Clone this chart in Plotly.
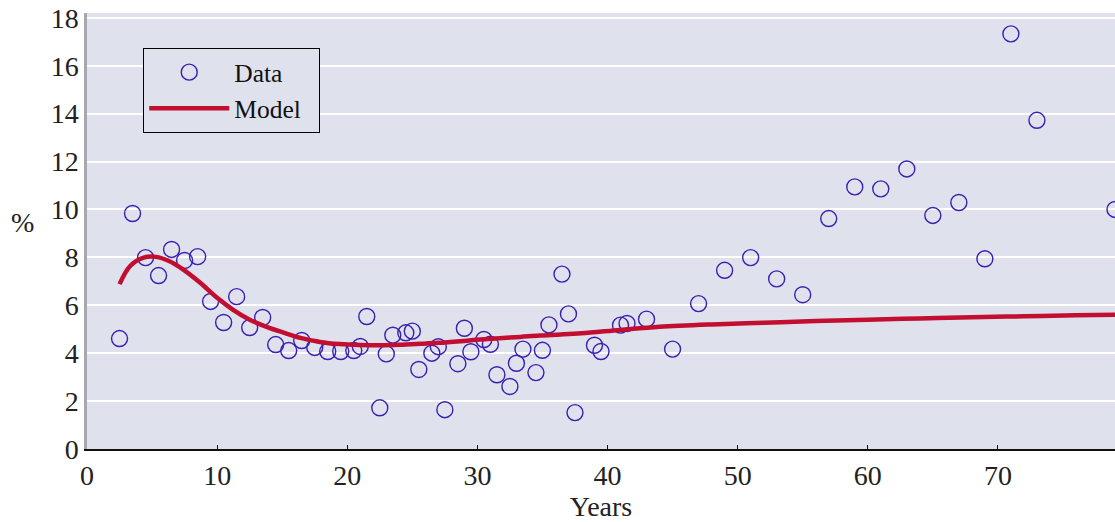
import plotly.graph_objects as go

# Observed data
years = [2.5, 3.5, 4.5, 5.5, 6.5, 7.5, 8.5, 9.5, 10.5, 11.5, 12.5, 13.5, 14.5, 15.5,
         16.5, 17.5, 18.5, 19.5, 20.5, 21, 21.5, 22.5, 23, 23.5, 24.5, 25, 25.5, 26.5,
         27, 27.5, 28.5, 29, 29.5, 30.5, 31, 31.5, 32.5, 33, 33.5, 34.5, 35, 35.5,
         36.5, 37, 37.5, 39, 39.5, 41, 41.5, 43, 45, 47, 49, 51, 53, 55, 57, 59, 61,
         63, 65, 67, 69, 71, 73, 79]
pct = [4.61, 9.83, 7.99, 7.24, 8.33, 7.87, 8.03, 6.16, 5.28, 6.36, 5.07, 5.49, 4.36, 4.11,
       4.53, 4.24, 4.07, 4.07, 4.11, 4.28, 5.53, 1.72, 3.97, 4.75, 4.85, 4.92, 3.32, 4.00,
       4.27, 1.64, 3.56, 5.04, 4.06, 4.57, 4.37, 3.10, 2.61, 3.58, 4.17, 3.19, 4.12, 5.18,
       7.30, 5.64, 1.52, 4.33, 4.07, 5.17, 5.24, 5.42, 4.17, 6.07, 7.46, 7.99, 7.10, 6.44,
       9.62, 10.94, 10.86, 11.69, 9.75, 10.29, 7.94, 17.33, 13.72, 10.00]

# Model curve
model_x = [2.5, 3.3, 4.3, 5.3, 6.3, 7.4, 8.7, 10, 11.2, 12.5, 13.8, 15.1, 16.4, 17.9,
           19.4, 21, 22.5, 24, 25.6, 27, 28.7, 30.2, 31.7, 33.3, 34.8, 36.4, 38, 41,
           44, 48, 52, 56, 60, 64, 68, 72, 76, 79]
model_y = [6.88, 7.63, 7.98, 8.02, 7.85, 7.49, 6.94, 6.31, 5.82, 5.40, 5.10, 4.86, 4.64,
           4.47, 4.38, 4.34, 4.33, 4.35, 4.39, 4.43, 4.50, 4.57, 4.62, 4.68, 4.74, 4.78,
           4.83, 4.97, 5.10, 5.20, 5.27, 5.34, 5.40, 5.45, 5.50, 5.54, 5.58, 5.60]

x_ticks = [0, 10, 20, 30, 40, 50, 60, 70]
y_ticks = [0, 2, 4, 6, 8, 10, 12, 14, 16, 18]

FONT = "Liberation Serif"
BG = "#DFE1ED"

fig = go.Figure()
fig.add_trace(go.Scatter(
    x=years, y=pct, mode="markers", name="Data",
    marker=dict(symbol="circle-open", size=16, color="#3A1FB2", line=dict(width=1.4)),
    cliponaxis=True,
))
fig.add_trace(go.Scatter(
    x=model_x, y=model_y, mode="lines", name="Model\u00a0\u00a0",
    line=dict(color="#C20E30", width=4.5, shape="spline"),
))

fig.update_layout(
    width=1115, height=522,
    margin=dict(l=87, r=0, t=13, b=73),
    paper_bgcolor="white",
    plot_bgcolor=BG,
    font=dict(family=FONT, size=28, color="#222222"),
    showlegend=True,
    legend=dict(
        x=0.0545, y=0.92, xanchor="left", yanchor="top",
        bgcolor=BG, bordercolor="black", borderwidth=1.2,
        font=dict(family=FONT, size=25.5, color="#111111"),
        itemwidth=80, tracegroupgap=0,
    ),
    xaxis=dict(
        range=[0, 79], tickvals=x_ticks, showgrid=False, zeroline=False,
        showline=True, linecolor="#111111", linewidth=2,
        ticks="inside", ticklen=4, tickcolor="#111111",
        tickfont=dict(family=FONT, size=28), ticklabeloverflow="allow",
        title=dict(text="Years", font=dict(family=FONT, size=28), standoff=4),
    ),
    yaxis=dict(
        range=[0, 18.2], tickvals=y_ticks, showgrid=True, gridcolor="white",
        gridwidth=1.5, zeroline=False,
        showline=True, linecolor="#A8A8B0", linewidth=2.5,
        ticks="", tickfont=dict(family=FONT, size=28), ticklabeloverflow="allow",
    ),
    annotations=[dict(
        text="%", xref="paper", yref="paper", x=-0.063, y=0.52,
        xanchor="center", yanchor="middle", showarrow=False,
        font=dict(family=FONT, size=28, color="#222222"),
    )],
)

# remove the default page margin so the 1115x522 figure fills the window exactly
fig.write_html(
    "out.html",
    config={"displayModeBar": False},
    post_script="document.body.style.margin='0';document.body.style.overflow='hidden';",
)
